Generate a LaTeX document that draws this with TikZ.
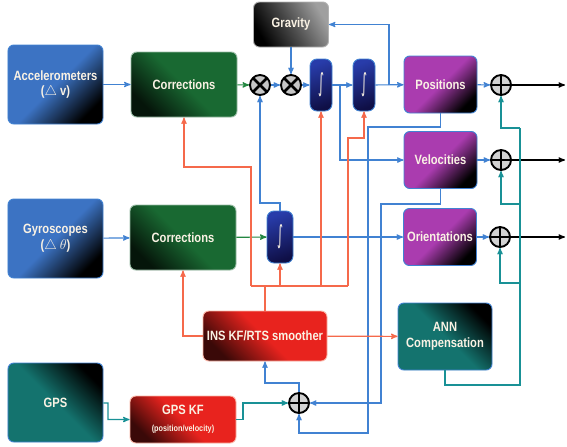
\documentclass[tikz,border=0pt]{standalone}
\usepackage{fontspec}
\setmainfont{Liberation Sans}[FakeStretch=0.83]
\newfontfamily\symfont{DejaVu Sans}
\usetikzlibrary{arrows}
\newcommand\intsign{{\symfont\mdseries\fontsize{13}{13}\selectfont\scalebox{0.75}[1.65]{∫}}}
\definecolor{box_blue}{RGB}{60,115,195}
\definecolor{box_navy}{RGB}{40,60,170}
\definecolor{box_deep}{RGB}{15,15,70}
\definecolor{box_green}{RGB}{25,105,50}
\definecolor{box_purple}{RGB}{170,60,175}
\definecolor{box_red}{RGB}{232,35,30}
\definecolor{box_teal}{RGB}{20,115,110}
\definecolor{edge_blue}{RGB}{65,130,210}
\definecolor{edge_red}{RGB}{245,105,75}
\definecolor{edge_green}{RGB}{35,135,65}
\definecolor{edge_teal}{RGB}{25,145,150}
\definecolor{text_cream}{RGB}{250,242,228}

\begin{document}
\begin{tikzpicture}[->,>=stealth',x=0.03cm,y=-0.03cm,line width=1pt]
    \tikzstyle{box}=[rounded corners=5pt, draw=edge_blue, line width=0.8pt, text=text_cream, font=\bfseries\fontsize{11.5}{13.5}\selectfont, align=center, inner sep=1pt]
    \tikzstyle{sensor}=[box, minimum width=2.85cm, minimum height=2.37cm, top color=box_blue, bottom color=black, middle color=box_blue, shading angle=45]
    \tikzstyle{corr}=[box, draw=box_green!45!white, minimum width=3.18cm, minimum height=1.95cm, top color=box_green, bottom color=black!80!box_green, middle color=box_green, shading angle=-45]
    \tikzstyle{statebox}=[box, minimum width=2.19cm, minimum height=1.71cm, top color=box_purple, bottom color=black, middle color=box_purple, shading angle=45]
    \tikzstyle{integ}=[box, rounded corners=6pt, minimum width=0.66cm, minimum height=1.56cm, top color=box_navy, bottom color=box_deep, shading angle=20]
    \tikzstyle{kfbox}=[box, draw=edge_red!50!white, top color=box_red, bottom color=black!75!box_red, middle color=box_red, shading angle=-45]
    \tikzstyle{tealbox}=[box, draw=edge_blue, top color=black, bottom color=box_teal, middle color=box_teal, shading angle=-45]
    \tikzstyle{gravbox}=[box, draw=gray!60, minimum width=2.25cm, minimum height=1.35cm, top color=gray!75, bottom color=black, middle color=black!70, shading angle=-60]
    \tikzstyle{sum}=[circle, draw=black, line width=1.6pt, fill=gray!35, minimum size=0.6cm, inner sep=0pt, path picture={\draw[-,black,line width=1.6pt] (path picture bounding box.north) -- (path picture bounding box.south) (path picture bounding box.west) -- (path picture bounding box.east);}]
    \tikzstyle{mult}=[circle, draw=black, line width=1.6pt, fill=gray!45, minimum size=0.6cm, inner sep=0pt, path picture={\draw[-,black,line width=2.4pt] (path picture bounding box.north west) -- (path picture bounding box.south east) (path picture bounding box.south west) -- (path picture bounding box.north east);}]
    \tikzstyle{bl}=[edge_blue]
    \tikzstyle{rd}=[edge_red]
    \tikzstyle{gn}=[edge_green]
    \tikzstyle{tl}=[edge_teal]
    \tikzstyle{bk}=[black]

    \useasboundingbox (0,0) rectangle (567,446);

    \node[sensor] (acc)   at (55.5,84.5)  {Accelerometers\\($\triangle$ v)};
    \node[corr]   (corr1) at (184,84.5)   {Corrections};
    \node[gravbox] (grav) at (291,24.5)   {Gravity};
    \node[mult]   (mul1)  at (260,85)     {};
    \node[mult]   (mul2)  at (291,85)     {};
    \node[integ]  (int1)  at (321,85)     {\intsign};
    \node[integ]  (int2)  at (364,85)     {\intsign};
    \node[statebox] (pos) at (440.5,84.5) {Positions};
    \node[sum]    (sum1)  at (501,85)     {};
    \node[statebox] (vel) at (440.5,160)  {Velocities};
    \node[sum]    (sum2)  at (501,160)    {};
    \node[statebox] (ori) at (440,237)    {Orientations};
    \node[sum]    (sum3)  at (500,237)    {};
    \node[sensor] (gyro)  at (55.5,238.5) {Gyroscopes\\($\triangle$ $\theta$)};
    \node[corr]   (corr2) at (183,237.5)  {Corrections};
    \node[integ, minimum width=0.78cm] (int3) at (280,237) {\intsign};
    \node[kfbox, minimum width=3.72cm, minimum height=1.5cm] (ins) at (265,336) {INS KF/RTS smoother};
    \node[tealbox, minimum width=2.82cm, minimum height=2.01cm] (ann) at (445,336.5) {ANN\\Compensation};
    \node[tealbox, minimum width=2.85cm, minimum height=2.37cm] (gps) at (55.5,402.5) {GPS};
    \node[kfbox, minimum width=3.18cm, minimum height=1.41cm] (gpskf) at (183,419.5) {GPS KF\\[1pt]{\fontsize{7.5}{9}\selectfont(position/velocity)}};
    \node[sum]    (sum4)  at (299,403)    {};

    \coordinate (j1) at (340,85);
    \coordinate (j2) at (389,85);
    \coordinate (j3) at (280,203);
    \coordinate (p1) at (368,127);
    \coordinate (p2) at (368,433);
    \coordinate (v1) at (381,204);
    \coordinate (s1) at (299,383);
    \coordinate (g1) at (108,403);
    \coordinate (g2) at (243,419.5);
    \coordinate (r0) at (265,286);
    \coordinate (rL) at (251,286);
    \coordinate (rR) at (348,286);
    \coordinate (c1) at (251,167);
    \coordinate (c2) at (348,138);
    \coordinate (t0) at (520,385);
    \coordinate (t1) at (520,128);
    \coordinate (t2) at (520,204);
    \coordinate (t3) at (520,283);
    \coordinate (o1) at (565,85);
    \coordinate (o2) at (565,160);
    \coordinate (o3) at (565,237);

    % accelerometer chain
    \draw[bl] (acc) -- (corr1);
    \draw[gn] (corr1) -- (mul1);
    \draw[bl] (mul1) -- (mul2);
    \draw[bl] (grav) -- (mul2);
    \draw[bl] (mul2) -- (int1);
    \draw[bl] (int1) -- (int2);
    \draw[bl] (int2) -- (pos);
    \draw[bl] (j1) |- (vel);
    \draw[bl] (j2) |- (grav);
    % gyro chain
    \draw[bl] (gyro) -- (corr2);
    \draw[gn] (corr2) -- (int3);
    \draw[bl] (int3) -- (ori);
    \draw[bl] (int3) -- (j3) -| (mul1);
    % outputs
    \draw[bl] (pos) -- (sum1);
    \draw[bl] (vel) -- (sum2);
    \draw[bl] (ori) -- (sum3);
    \draw[bk] (sum1) -- (o1);
    \draw[bk] (sum2) -- (o2);
    \draw[bk] (sum3) -- (o3);
    % INS minus GPS
    \draw[bl] (pos) |- (p1) -- (p2) -| (sum4);
    \draw[bl] (vel) |- (v1) |- (sum4);
    \draw[tl] (gps) -- (g1) |- (gpskf);
    \draw[tl] (gpskf) -- (g2) |- (sum4);
    \draw[bl] (sum4) -- (s1) -| (ins);
    % filter feedback
    \draw[rd] (ins) -- (ann);
    \draw[rd] (ins) -| (corr2);
    \draw[rd,-] (ins) -- (r0);
    \draw[rd,-] (rL) -- (rR);
    \draw[rd] (rL) -- (c1) -| (corr1);
    \draw[rd] (int3 |- rL) -- (int3);
    \draw[rd] (int1 |- rL) -- (int1);
    \draw[rd] (rR) -- (c2) -| (int2);
    % ANN compensation
    \draw[tl,-] (ann) |- (t0) -- (t1);
    \draw[tl] (t1) -| (sum1);
    \draw[tl] (t2) -| (sum2);
    \draw[tl] (t3) -| (sum3);
\end{tikzpicture}
\end{document}
